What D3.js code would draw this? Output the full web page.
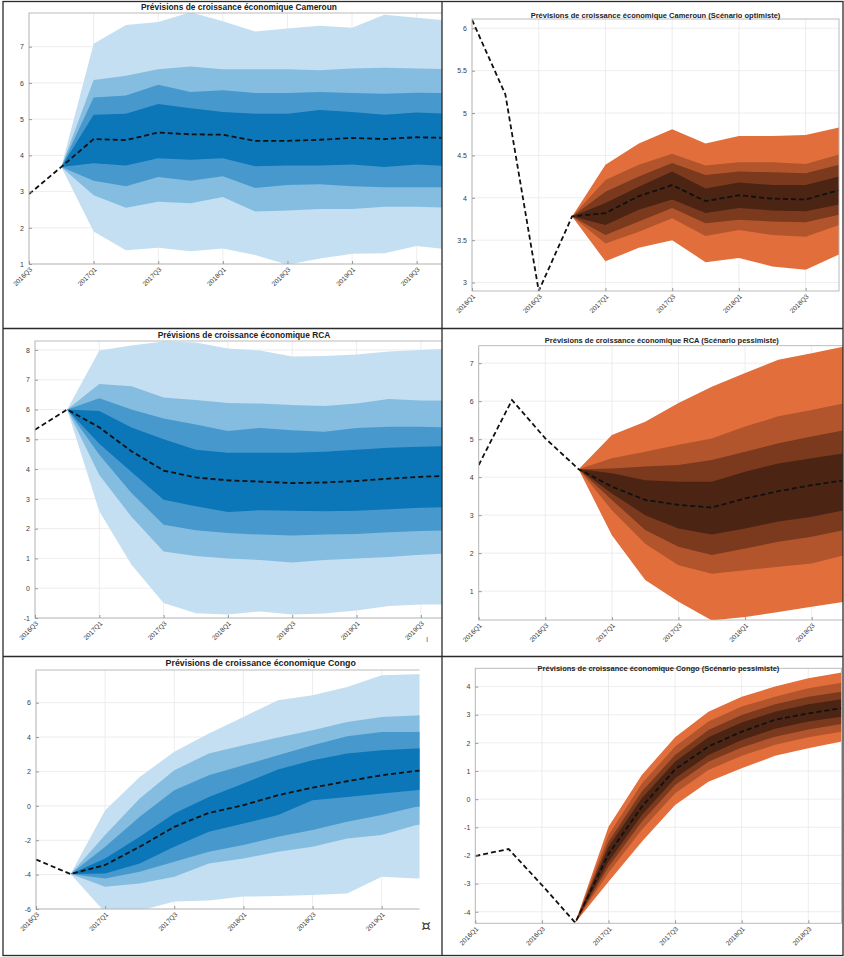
<!DOCTYPE html>
<html>
<head>
<meta charset="utf-8">
<script src="https://cdn.jsdelivr.net/npm/d3@7/dist/d3.min.js"></script>
<style>
  body { margin: 0; background: #fff; }
  svg { display: block; font-family: "Liberation Sans", Arial, sans-serif; }
</style>
</head>
<body>
<svg id="chart" width="844" height="957"></svg>
<script>
// Quarter labels
const quartersA = ["2016Q3","2016Q4","2017Q1","2017Q2","2017Q3","2017Q4","2018Q1","2018Q2","2018Q3","2018Q4","2019Q1","2019Q2","2019Q3","2019Q4"];
const quartersB = ["2016Q1","2016Q2","2016Q3","2016Q4","2017Q1","2017Q2","2017Q3","2017Q4","2018Q1","2018Q2","2018Q3","2018Q4"];

// Cameroun (base) - median from 2016Q3, bands from 2017Q1 (outer -> inner)
const cmrMedian = [2.93, 3.68, 4.45, 4.42, 4.63, 4.58, 4.57, 4.4, 4.4, 4.43, 4.48, 4.45, 4.5, 4.48];
const cmrUpper = [
  [7.08, 7.6, 7.68, 7.95, 7.7, 7.42, 7.5, 7.58, 7.52, 7.88, 7.8, 7.72],
  [6.08, 6.2, 6.38, 6.45, 6.38, 6.38, 6.38, 6.35, 6.4, 6.42, 6.4, 6.38],
  [5.6, 5.65, 5.95, 5.75, 5.8, 5.72, 5.72, 5.75, 5.72, 5.7, 5.73, 5.72],
  [5.12, 5.15, 5.42, 5.3, 5.2, 5.15, 5.15, 5.25, 5.2, 5.12, 5.18, 5.15]
];
const cmrLower = [
  [1.9, 1.38, 1.45, 1.35, 1.43, 1.25, 0.98, 1.15, 1.28, 1.3, 1.5, 1.4],
  [2.9, 2.55, 2.72, 2.68, 2.85, 2.45, 2.48, 2.52, 2.52, 2.58, 2.58, 2.55],
  [3.3, 3.15, 3.4, 3.3, 3.42, 3.1, 3.18, 3.2, 3.15, 3.12, 3.12, 3.12],
  [3.78, 3.72, 3.92, 3.88, 3.92, 3.7, 3.72, 3.72, 3.75, 3.68, 3.75, 3.7]
];

// Cameroun (optimiste) - median from 2016Q1, bands from 2017Q1
const cmrOptMedian = [6.1, 5.22, 2.9, 3.78, 3.82, 4.02, 4.15, 3.96, 4.03, 3.99, 3.98, 4.09];
const cmrOptUpper = [
  [4.39, 4.64, 4.81, 4.64, 4.73, 4.73, 4.74, 4.83],
  [4.21, 4.39, 4.52, 4.38, 4.42, 4.42, 4.4, 4.51],
  [4.07, 4.25, 4.41, 4.27, 4.31, 4.3, 4.29, 4.39],
  [3.94, 4.13, 4.31, 4.11, 4.18, 4.15, 4.15, 4.25]
];
const cmrOptLower = [
  [3.25, 3.41, 3.5, 3.24, 3.29, 3.19, 3.15, 3.33],
  [3.46, 3.6, 3.76, 3.55, 3.62, 3.56, 3.54, 3.68],
  [3.56, 3.72, 3.88, 3.7, 3.74, 3.72, 3.71, 3.8],
  [3.68, 3.86, 3.98, 3.82, 3.88, 3.85, 3.84, 3.92]
];

// RCA (base)
const rcaMedian = [5.32, 6.0, 5.4, 4.6, 3.95, 3.72, 3.62, 3.58, 3.53, 3.55, 3.6, 3.68, 3.74, 3.78];
const rcaUpper = [
  [7.98, 8.15, 8.28, 8.25, 8.05, 7.98, 7.78, 7.8, 7.85, 7.95, 8.0, 8.05],
  [6.86, 6.78, 6.4, 6.32, 6.22, 6.2, 6.15, 6.12, 6.2, 6.35, 6.3, 6.3],
  [6.38, 6.0, 5.7, 5.5, 5.28, 5.38, 5.3, 5.25, 5.38, 5.42, 5.42, 5.4],
  [5.95, 5.4, 5.0, 4.65, 4.55, 4.55, 4.55, 4.58, 4.65, 4.72, 4.75, 4.78]
];
const rcaLower = [
  [2.58, 0.79, -0.5, -0.84, -0.88, -0.78, -0.88, -0.85, -0.75, -0.6, -0.55, -0.55],
  [3.8, 2.4, 1.23, 1.08, 1.0, 0.95, 0.86, 0.95, 1.0, 1.05, 1.12, 1.18],
  [4.48, 3.2, 2.13, 1.95, 1.85, 1.8, 1.77, 1.8, 1.82, 1.88, 1.92, 1.95],
  [4.85, 3.9, 2.97, 2.75, 2.56, 2.62, 2.6, 2.58, 2.6, 2.65, 2.7, 2.73]
];

// RCA (pessimiste)
const rcaPesMedian = [4.32, 6.03, 5.02, 4.21, 3.75, 3.4, 3.27, 3.2, 3.44, 3.63, 3.79, 3.92];
const rcaPesUpper = [
  [5.11, 5.46, 5.95, 6.38, 6.74, 7.09, 7.26, 7.44],
  [4.5, 4.67, 4.85, 5.02, 5.33, 5.6, 5.77, 5.95],
  [4.23, 4.28, 4.32, 4.45, 4.67, 4.89, 5.07, 5.24],
  [4.1, 3.92, 3.88, 3.88, 4.14, 4.36, 4.5, 4.63]
];
const rcaPesLower = [
  [2.47, 1.29, 0.72, 0.23, 0.32, 0.45, 0.59, 0.72],
  [3.13, 2.25, 1.68, 1.46, 1.55, 1.64, 1.73, 1.95],
  [3.4, 2.61, 2.17, 1.95, 2.12, 2.3, 2.43, 2.61],
  [3.57, 3.0, 2.65, 2.49, 2.65, 2.83, 2.96, 3.13]
];

// Congo (base) - shown up to 2019Q3 (image cropped)
const cogMedian = [-3.12, -3.97, -3.44, -2.38, -1.22, -0.41, 0.04, 0.62, 1.06, 1.43, 1.78, 2.03, 2.2];
const cogUpper = [
  [-0.25, 1.68, 3.14, 4.2, 5.17, 6.14, 6.43, 6.91, 7.59, 7.65, 7.7],
  [-1.7, 0.43, 2.07, 3.04, 3.52, 3.97, 4.39, 4.88, 5.17, 5.26, 5.3],
  [-2.38, -0.64, 0.91, 1.78, 2.36, 2.94, 3.52, 4.05, 4.3, 4.3, 4.35],
  [-3.06, -1.8, -0.44, 0.52, 1.3, 2.11, 2.65, 3.04, 3.23, 3.33, 3.4]
];
const cogLower = [
  [-6.2, -6.1, -5.57, -5.5, -5.28, -5.25, -5.19, -5.1, -4.12, -4.22, -4.2],
  [-4.7, -4.51, -4.12, -3.35, -3.06, -2.67, -2.38, -1.9, -1.7, -1.12, -1.0],
  [-4.22, -3.83, -3.25, -2.67, -2.28, -1.8, -1.41, -0.93, -0.54, -0.06, 0.05],
  [-3.93, -3.35, -2.38, -1.51, -1.03, -0.54, 0.33, 0.52, 0.72, 0.91, 1.0]
];

// Congo (pessimiste)
const cogPesMedian = [-2.02, -1.77, -3.05, -4.39, -1.95, -0.27, 1.06, 1.87, 2.4, 2.82, 3.05, 3.23];
const cogPesUpper = [
  [-0.98, 0.86, 2.2, 3.11, 3.64, 4.0, 4.3, 4.5],
  [-1.27, 0.56, 1.87, 2.76, 3.29, 3.64, 3.94, 4.14],
  [-1.51, 0.27, 1.57, 2.46, 2.99, 3.37, 3.64, 3.82],
  [-1.69, 0.03, 1.33, 2.2, 2.72, 3.11, 3.37, 3.55]
];
const cogPesLower = [
  [-2.93, -1.51, -0.21, 0.62, 1.1, 1.54, 1.81, 2.05],
  [-2.61, -1.09, 0.21, 1.04, 1.54, 1.93, 2.2, 2.4],
  [-2.4, -0.8, 0.5, 1.33, 1.84, 2.22, 2.48, 2.67],
  [-2.22, -0.56, 0.74, 1.57, 2.1, 2.5, 2.76, 2.93]
];

// Tick values
const ticksCmr = [1, 2, 3, 4, 5, 6, 7];
const ticksCmrOpt = [3, 3.5, 4, 4.5, 5, 5.5, 6];
const ticksRca = [-1, 0, 1, 2, 3, 4, 5, 6, 7, 8];
const ticksRcaPes = [1, 2, 3, 4, 5, 6, 7];
const ticksCog = [-6, -4, -2, 0, 2, 4, 6];
const ticksCogPes = [-4, -3, -2, -1, 0, 1, 2, 3, 4];

const blues = ["#c4dff1", "#85bde0", "#4799cd", "#0b76b8"];
const oranges = ["#e26e3b", "#b3552c", "#7b391d", "#4b2414"];

const panels = [
  { title: "Prévisions de croissance économique Cameroun", q: quartersA, median: cmrMedian, upper: cmrUpper, lower: cmrLower,
    anchor: 1, colors: blues, yDomain: [1, 7.93], yTicks: ticksCmr, xMax: 13,
    cell: [3, 1.5, 442, 328.5], xr: [29, 449], yr: [264, 13], titleY: 10, titleSize: 8.4, clipR: 442 },
  { title: "Prévisions de croissance économique Cameroun (Scénario optimiste)", q: quartersB, median: cmrOptMedian, upper: cmrOptUpper, lower: cmrOptLower,
    anchor: 3, colors: oranges, yDomain: [2.9, 6.11], yTicks: ticksCmrOpt, xMax: 11,
    cell: [442, 1.5, 843, 328.5], xr: [472, 839], yr: [291, 19], titleY: 17.5, titleSize: 7.5, clipR: 843 },
  { title: "Prévisions de croissance économique RCA", q: quartersA, median: rcaMedian, upper: rcaUpper, lower: rcaLower,
    anchor: 1, colors: blues, yDomain: [-1, 8.3], yTicks: ticksRca, xMax: 13,
    cell: [3, 328.5, 442, 656.5], xr: [35, 453], yr: [618, 341], titleY: 338, titleSize: 8.4, clipR: 442 },
  { title: "Prévisions de croissance économique RCA (Scénario pessimiste)", q: quartersB, median: rcaPesMedian, upper: rcaPesUpper, lower: rcaPesLower,
    anchor: 3, colors: oranges, yDomain: [0.24, 7.46], yTicks: ticksRcaPes, xMax: 11,
    cell: [442, 328.5, 843, 656.5], xr: [478.7, 845], yr: [620, 345.7], titleY: 343, titleSize: 7.5, clipR: 843 },
  { title: "Prévisions de croissance économique Congo", q: quartersA, median: cogMedian, upper: cogUpper, lower: cogLower,
    anchor: 1, colors: blues, yDomain: [-6, 7.9], yTicks: ticksCog, xMax: 13,
    cell: [3, 656.5, 442, 955.5], xr: [36, 485.4], yr: [909, 670], titleY: 666, titleSize: 8.8, clipR: 419.5 },
  { title: "Prévisions de croissance économique Congo (Scénario pessimiste)", q: quartersB, median: cogPesMedian, upper: cogPesUpper, lower: cogPesLower,
    anchor: 3, colors: oranges, yDomain: [-4.41, 4.65], yTicks: ticksCogPes, xMax: 11,
    cell: [442, 656.5, 843, 955.5], xr: [475.3, 841.6], yr: [923.3, 668.3], titleY: 671, titleSize: 7.5, clipR: 843 }
];

const svg = d3.select("#chart");
const defs = svg.append("defs");

panels.forEach((p, pi) => {
  const [cx0, cy0, cx1, cy1] = p.cell;
  const x = d3.scaleLinear().domain([0, p.xMax]).range(p.xr);
  const y = d3.scaleLinear().domain(p.yDomain).range(p.yr);

  // clip to the table cell (image crop)
  defs.append("clipPath").attr("id", "cell" + pi)
    .append("rect").attr("x", cx0).attr("y", cy0)
    .attr("width", Math.min(cx1, p.clipR) - cx0).attr("height", cy1 - cy0);
  defs.append("clipPath").attr("id", "plot" + pi)
    .append("rect").attr("x", p.xr[0]).attr("y", p.yr[1])
    .attr("width", p.xr[1] - p.xr[0]).attr("height", p.yr[0] - p.yr[1]);

  const g = svg.append("g").attr("clip-path", `url(#cell${pi})`);

  const xTickIdx = d3.range(0, p.xMax + 1, 2);

  // grid
  const grid = g.append("g").attr("stroke", "#e9e9e9").attr("stroke-width", 0.8);
  grid.selectAll(".vx").data(xTickIdx).enter().append("line")
    .attr("x1", d => x(d)).attr("x2", d => x(d))
    .attr("y1", p.yr[0]).attr("y2", p.yr[1]);
  grid.selectAll(".hy").data(p.yTicks).enter().append("line")
    .attr("x1", p.xr[0]).attr("x2", p.xr[1])
    .attr("y1", d => y(d)).attr("y2", d => y(d));

  // fan bands, outer first
  const plot = g.append("g").attr("clip-path", `url(#plot${pi})`);
  const start = p.median[p.anchor];
  p.upper.forEach((up, k) => {
    const lo = p.lower[k];
    const pts = [{i: p.anchor, lo: start, hi: start}]
      .concat(up.map((v, j) => ({i: p.anchor + 1 + j, lo: lo[j], hi: v})));
    const area = d3.area()
      .x(d => x(d.i))
      .y0(d => y(d.lo))
      .y1(d => y(d.hi));
    plot.append("path").datum(pts)
      .attr("d", area)
      .attr("fill", p.colors[k]);
  });

  // median dashed line
  const line = d3.line().x((d, i) => x(i)).y(d => y(d));
  plot.append("path").datum(p.median)
    .attr("d", line)
    .attr("fill", "none")
    .attr("stroke", "#111")
    .attr("stroke-width", 1.8)
    .attr("stroke-dasharray", "5,3");

  // box
  g.append("rect")
    .attr("x", p.xr[0]).attr("y", p.yr[1])
    .attr("width", p.xr[1] - p.xr[0]).attr("height", p.yr[0] - p.yr[1])
    .attr("fill", "none").attr("stroke", "#b4b4b4").attr("stroke-width", 0.9);

  // y axis
  const yAxis = g.append("g")
    .attr("transform", `translate(${p.xr[0]},0)`)
    .call(d3.axisLeft(y).tickValues(p.yTicks).tickFormat(d => String(d)).tickSizeInner(-3).tickSizeOuter(0).tickPadding(5));
  yAxis.select(".domain").remove();
  yAxis.selectAll("line").attr("stroke", "#999");
  yAxis.selectAll("text").attr("fill", "#3c3c3c").style("font-size", "7px");

  // x axis
  const xAxis = g.append("g")
    .attr("transform", `translate(0,${p.yr[0]})`)
    .call(d3.axisBottom(x).tickValues(xTickIdx).tickFormat(i => p.q[i]).tickSizeInner(-3).tickSizeOuter(0));
  xAxis.select(".domain").remove();
  xAxis.selectAll("line").attr("stroke", "#999");
  xAxis.selectAll("text")
    .attr("fill", "#3c3c3c")
    .style("font-size", "6.6px")
    .attr("text-anchor", "end")
    .attr("dy", null)
    .attr("y", 0)
    .attr("transform", "translate(3,6) rotate(-45)");

  // title
  g.append("text")
    .attr("x", (p.xr[0] + p.xr[1]) / 2)
    .attr("y", p.titleY)
    .attr("text-anchor", "middle")
    .attr("font-weight", "bold")
    .attr("fill", "#222")
    .style("font-size", p.titleSize + "px")
    .text(p.title);
});

// table borders
const border = svg.append("g").attr("stroke", "#2b2b2b").attr("stroke-width", 1.3).attr("fill", "none");
border.append("rect").attr("x", 3).attr("y", 1.5).attr("width", 840).attr("height", 954);
border.append("line").attr("x1", 442).attr("x2", 442).attr("y1", 1.5).attr("y2", 955.5);
border.append("line").attr("x1", 3).attr("x2", 843).attr("y1", 328.5).attr("y2", 328.5);
border.append("line").attr("x1", 3).attr("x2", 843).attr("y1", 656.5).attr("y2", 656.5);

// document artefacts
svg.append("text").attr("x", 426).attr("y", 931).attr("text-anchor", "middle")
  .attr("font-family", "DejaVu Sans")
  .attr("fill", "#3a3a3a").style("font-size", "15px").text("¤");
svg.append("text").attr("x", 427).attr("y", 642).attr("text-anchor", "middle")
  .attr("fill", "#666").style("font-size", "8px").text("I");
</script>
</body>
</html>
